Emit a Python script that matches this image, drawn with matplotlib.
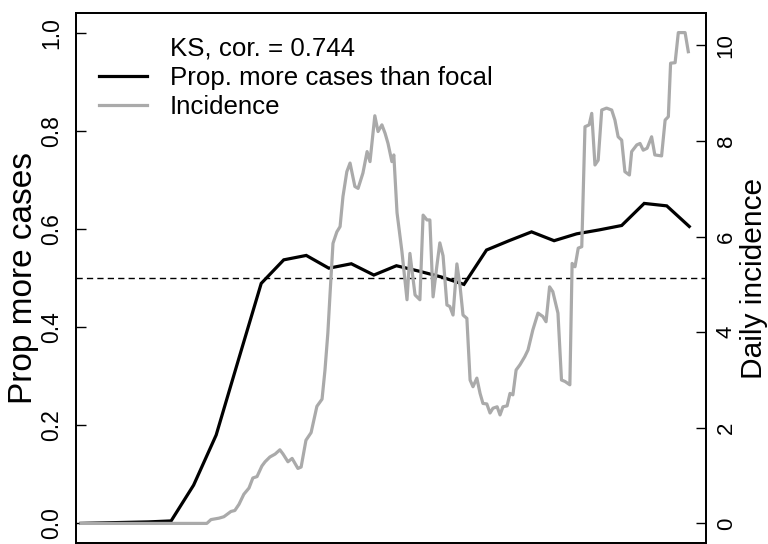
import numpy as np
import matplotlib
matplotlib.use('Agg')
import matplotlib.pyplot as plt
from matplotlib.lines import Line2D

plt.rcParams['font.family'] = ['Liberation Sans', 'DejaVu Sans']

# weekly proportion of places with more cases than the focal one
prop_days = [0, 7, 14, 21, 28, 35, 42, 49, 56, 63, 70, 77, 84, 91,
             98, 105, 112, 119, 126, 133, 140, 147, 154, 161, 168, 175, 182, 189]
prop_more = [0.0, 0.001, 0.002, 0.003, 0.005, 0.078, 0.180, 0.335, 0.489, 0.537,
             0.546, 0.520, 0.529, 0.506, 0.525, 0.514, 0.502, 0.487, 0.557, 0.576,
             0.594, 0.576, 0.590, 0.598, 0.607, 0.652, 0.647, 0.605]

# daily incidence (smoothed)
inc_days = [0, 39.1, 40.4, 42.9, 44.4, 46.6, 47.8, 49.1, 50.6, 52.2, 53.4, 54.7,
            56.2, 57.2, 58.7, 60.3, 61.8, 62.8, 64.3, 65.6, 67.4, 68.4, 69.9, 71.5,
            73.3, 74.9, 75.8, 76.7, 77.4, 78.3, 79.5, 80.5, 81.4, 82.6, 83.6, 85.1,
            86.1, 87.6, 88.9, 89.8, 91.3, 92.3, 93.5, 94.5, 95.4, 96.6, 97.2, 98.2,
            99.7, 101.3, 102.2, 103.8, 105.3, 106.3, 107.5, 108.4, 109.4, 110.6,
            111.5, 112.5, 113.7, 114.6, 115.6, 116.8, 117.8, 118.7, 119.9, 120.9,
            121.8, 123.0, 124.0, 124.9, 126.1, 127.1, 128.0, 129.3, 130.2, 131.1,
            132.4, 133.3, 134.2, 135.2, 136.4, 137.9, 138.9, 140.4, 142.0, 143.5,
            144.5, 145.6, 146.6, 148.2, 149.3, 150.4, 151.9, 152.6, 153.5, 154.5,
            155.6, 156.6, 157.9, 158.7, 159.7, 160.7, 161.8, 163.3, 164.9, 165.9,
            166.9, 168.0, 169.0, 170.4, 171.1, 172.7, 173.7, 174.7, 175.9, 177.3,
            178.3, 180.4, 181.5, 182.5, 183.2, 184.6, 185.6, 187.7, 188.7]
incidence = [0, 0, 0.08, 0.11, 0.14, 0.25, 0.27, 0.40, 0.61, 0.74, 0.95, 0.98,
             1.20, 1.29, 1.39, 1.45, 1.54, 1.45, 1.29, 1.36, 1.15, 1.18, 1.74, 1.90,
             2.45, 2.60, 3.20, 3.98, 4.82, 5.86, 6.10, 6.21, 6.84, 7.36, 7.54, 7.05,
             7.01, 7.33, 7.78, 7.57, 8.53, 8.20, 8.34, 8.16, 7.95, 7.57, 7.71, 6.50,
             5.70, 4.68, 5.65, 4.78, 4.68, 6.45, 6.35, 6.35, 4.74, 5.40, 5.87,
             5.60, 4.57, 4.54, 4.36, 5.43, 4.95, 4.36, 4.29, 3.00,
             2.86, 3.04, 2.72, 2.51, 2.50, 2.31, 2.41, 2.44, 2.27, 2.44,
             2.46, 2.72, 2.69, 3.21, 3.32, 3.49, 3.63, 4.05, 4.40, 4.33,
             4.22, 4.95, 4.85, 4.40, 3.00, 2.97, 2.90, 5.44, 5.37, 5.76,
             5.79, 8.30, 8.34, 8.58, 7.50, 7.60, 8.65, 8.69, 8.65, 8.44,
             8.09, 8.02, 7.36, 7.29, 7.78, 7.92, 7.95, 7.81, 7.85, 8.09,
             7.71, 7.69, 8.44, 8.51, 9.63, 9.64, 10.27, 10.27, 9.87]

fig = plt.figure(figsize=(7.68, 5.44), dpi=100)
ax = fig.add_axes([76 / 768, 1 / 544, 630 / 768, 530 / 544])
ax.plot(prop_days, prop_more, color='black', lw=2.3, solid_joinstyle='miter')
ax.axhline(0.5, color='black', lw=1, ls=(0, (4.5, 3)))
ax.set_xlim(-1.55, 194.2)
ax.set_ylim(-0.04, 1.04)
ax.set_xticks([])
ax.set_yticks([0, 0.2, 0.4, 0.6, 0.8, 1.0])
ax.set_yticklabels(['0.0', '0.2', '0.4', '0.6', '0.8', '1.0'])
ax.tick_params(axis='y', direction='in', length=7, width=1, labelsize=16.5,
               labelrotation=90, pad=9)
for t in ax.get_yticklabels():
    t.set_va('center')
ax.set_ylabel('Prop more cases', fontsize=24, labelpad=1)

ax2 = ax.twinx()
ax2.plot(inc_days, incidence, color='#AAAAAA', lw=2.3)
ax2.set_ylim(-0.41, 10.68)
ax2.set_yticks([0, 2, 4, 6, 8, 10])
ax2.tick_params(axis='y', direction='in', length=7, width=1, labelsize=16,
                labelrotation=90, pad=7)
for t in ax2.get_yticklabels():
    t.set_va('center')
ax2.set_ylabel('Daily incidence', fontsize=21.5, labelpad=2)
for a in (ax, ax2):
    for s in a.spines.values():
        s.set_linewidth(1.3)

handles = [Line2D([], [], color='none'),
           Line2D([], [], color='black', lw=2.3),
           Line2D([], [], color='#AAAAAA', lw=2.3)]
labels = ['KS, cor. = 0.744', 'Prop. more cases than focal', 'Incidence']
ax2.legend(handles, labels, loc='upper left', bbox_to_anchor=(0.02, 0.975),
           frameon=False, fontsize=18.6, handlelength=1.85, handletextpad=0.9,
           labelspacing=0.2, borderaxespad=0)

fig.savefig('out.png', dpi=100)
